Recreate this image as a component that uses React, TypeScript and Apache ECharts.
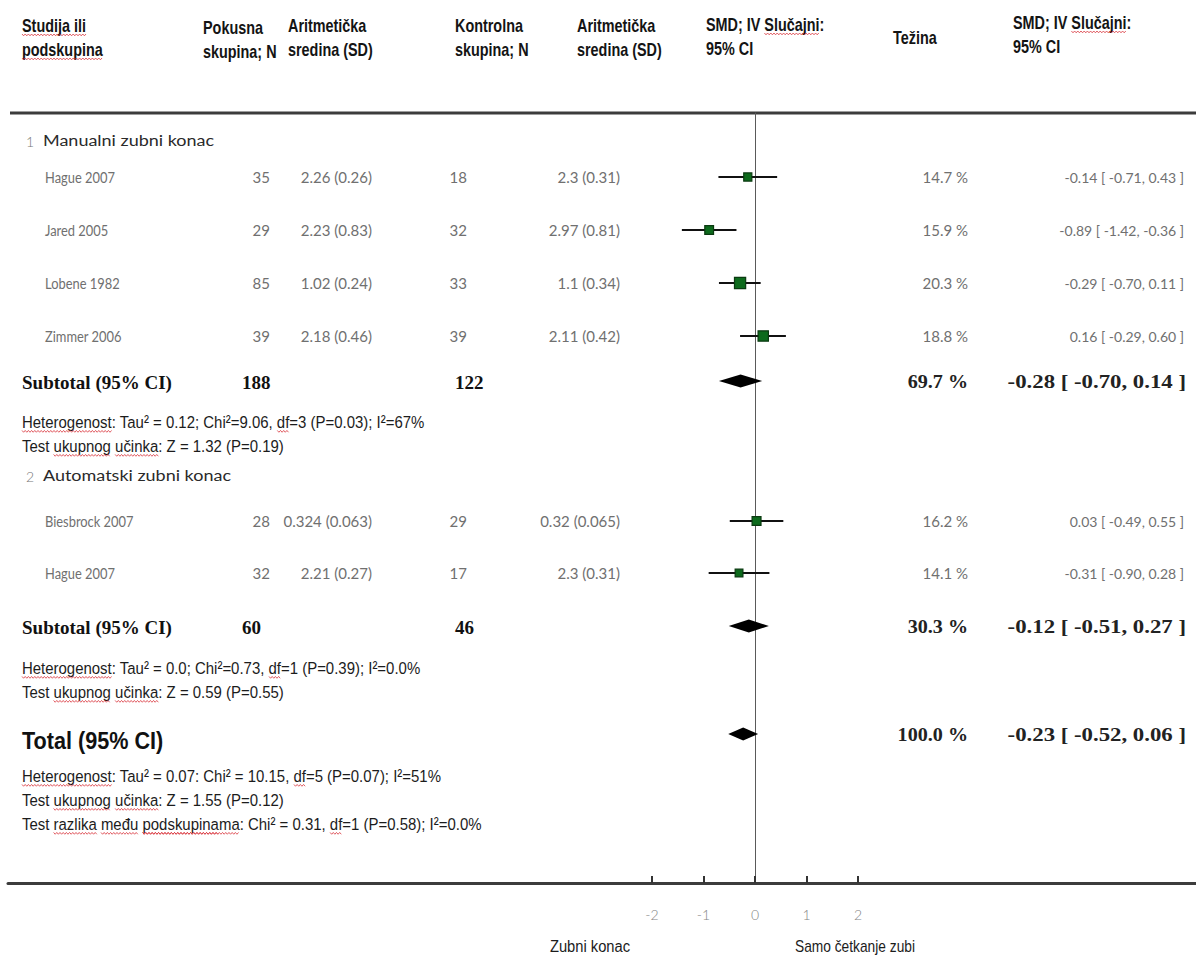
import React, { useEffect, useRef } from "react";
import * as echarts from "echarts";

// ---------- DATA ----------
const studyNames = ["Hague 2007", "Jared 2005", "Lobene 1982", "Zimmer 2006", "Biesbrock 2007", "Hague 2007"];
const expN = [35, 29, 85, 39, 28, 32];
const expMeanSD = ["2.26 (0.26)", "2.23 (0.83)", "1.02 (0.24)", "2.18 (0.46)", "0.324 (0.063)", "2.21 (0.27)"];
const ctrlN = [18, 32, 33, 39, 29, 17];
const ctrlMeanSD = ["2.3 (0.31)", "2.97 (0.81)", "1.1 (0.34)", "2.11 (0.42)", "0.32 (0.065)", "2.3 (0.31)"];
const weights = [14.7, 15.9, 20.3, 18.8, 16.2, 14.1];
const smd = [-0.14, -0.89, -0.29, 0.16, 0.03, -0.31];
const ciLow = [-0.71, -1.42, -0.7, -0.29, -0.49, -0.9];
const ciHigh = [0.43, -0.36, 0.11, 0.6, 0.55, 0.28];

const groupNumbers = ["1", "2"];
const groupNames = ["Manualni zubni konac", "Automatski zubni konac"];

const pooledLabels = ["Subtotal (95% CI)", "Subtotal (95% CI)", "Total (95% CI)"];
const pooledExpN = [188, 60, null];
const pooledCtrlN = [122, 46, null];
const pooledWeight = [69.7, 30.3, 100.0];
const pooledSmd = [-0.28, -0.12, -0.23];
const pooledLow = [-0.7, -0.51, -0.52];
const pooledHigh = [0.14, 0.27, 0.06];

const statLines = [
  "Heterogenost: Tau² = 0.12; Chi²=9.06, df=3 (P=0.03); I²=67%",
  "Test ukupnog učinka: Z = 1.32 (P=0.19)",
  "Heterogenost: Tau² = 0.0; Chi²=0.73, df=1 (P=0.39); I²=0.0%",
  "Test ukupnog učinka: Z = 0.59 (P=0.55)",
  "Heterogenost: Tau² = 0.07: Chi² = 10.15, df=5 (P=0.07); I²=51%",
  "Test ukupnog učinka: Z = 1.55 (P=0.12)",
  "Test razlika među podskupinama: Chi² = 0.31, df=1 (P=0.58); I²=0.0%",
];
// words marked by the spell checker (red wavy underline)
const flaggedWords = ["Studija ili", "podskupina", "Slučajni:", "Heterogenost:", "ukupnog", "učinka:", "df", "razlika", "među", "podskupinama:"];

const headerCols = [
  ["Studija ili", "podskupina"],
  ["Pokusna", "skupina; N"],
  ["Aritmetička", "sredina (SD)"],
  ["Kontrolna", "skupina; N"],
  ["Aritmetička", "sredina (SD)"],
  ["SMD; IV Slučajni:", "95% CI"],
  ["Težina"],
  ["SMD; IV Slučajni:", "95% CI"],
];

const xTicks = [-2, -1, 0, 1, 2];
const leftAxisLabel = "Zubni konac";
const rightAxisLabel = "Samo četkanje zubi";

// ---------- LAYOUT ----------
const W = 1196;
const H = 961;
const GRID_TOP = 113;
const GRID_BOTTOM = 883;
const ZERO_X = 755;
const UNIT = 51.5;
const X_MIN = (8 - ZERO_X) / UNIT;
const X_MAX = (W - ZERO_X) / UNIT;

const studyRowY = [177, 230, 283, 336, 521, 573];
const pooledRowY = [381, 626, 734];
const pooledTextY = [382, 627, 735];
const groupRowY = [141, 476];
const statRowY = [422, 446, 668, 692, 776, 800, 824];
const headerX = [22, 203, 288, 455, 577, 706, 893, 1013];
const headerY = [[25, 49], [27, 51], [25, 49], [25, 49], [25, 49], [24, 48], [37], [22, 46]];

const SANS = "'Liberation Sans', Arial, sans-serif";
const GILL = "Lato, 'Open Sans', sans-serif";
const SERIF = "'Liberation Serif', 'Times New Roman', serif";

const measureCtx = typeof document !== "undefined" ? document.createElement("canvas").getContext("2d") : null;
function measure(t: string, font: string) {
  if (!measureCtx) return t.length * 7;
  measureCtx.font = font;
  return measureCtx.measureText(t).width;
}

function txt(text: string, x: number, y: number, font: string, fill: string, align = "left", sx = 1) {
  return {
    type: "text",
    x,
    y,
    scaleX: sx,
    silent: true,
    style: { text, font, fill, textAlign: align, textVerticalAlign: "middle" },
  };
}

function wavy(x1: number, x2: number, y: number) {
  const pts: number[][] = [];
  let up = true;
  for (let x = x1; x <= x2; x += 1.6) {
    pts.push([x, y + (up ? -0.9 : 0.9)]);
    up = !up;
  }
  return {
    type: "polyline",
    silent: true,
    shape: { points: pts },
    style: { stroke: "#d9363e", lineWidth: 0.8, fill: null },
  };
}

// underline flagged words of a left-aligned text
function flagUnderlines(text: string, x: number, y: number, font: string, size: number, sx: number) {
  const out: any[] = [];
  flaggedWords.forEach((w) => {
    let from = 0;
    while (true) {
      const idx = text.indexOf(w, from);
      if (idx < 0) break;
      const before = text.slice(0, idx);
      const x1 = x + measure(before, font) * sx;
      const x2 = x1 + measure(w.replace(/:$/, ""), font) * sx;
      out.push(wavy(x1, x2, y + size * 0.55));
      from = idx + w.length;
    }
  });
  return out;
}

function fmtCI(e: number, l: number, h: number) {
  return `${e.toFixed(2)} [ ${l.toFixed(2)}, ${h.toFixed(2)} ]`;
}

export default function App() {
  const ref = useRef<HTMLDivElement>(null);

  useEffect(() => {
    if (!ref.current) return;
    const chart = echarts.init(ref.current, null, { renderer: "svg" });

    const graphics: any[] = [];
    // top rule
    graphics.push({
      type: "line",
      silent: true,
      shape: { x1: 10, y1: GRID_TOP, x2: W, y2: GRID_TOP },
      style: { stroke: "#3c3c3c", lineWidth: 3 },
    });
    // header
    const hFont = `bold 18px ${SANS}`;
    const hSx = 0.8;
    headerCols.forEach((lines, c) => {
      lines.forEach((t, k) => {
        graphics.push(txt(t, headerX[c], headerY[c][k], hFont, "#141414", "left", hSx));
        graphics.push(...flagUnderlines(t, headerX[c], headerY[c][k], hFont, 18, hSx));
      });
    });
    // group headers
    groupNames.forEach((g, i) => {
      graphics.push(txt(groupNumbers[i], 26, groupRowY[i], `300 14px ${GILL}`, "#777"));
      graphics.push(txt(g, 43, groupRowY[i], `15px ${GILL}`, "#2a2a2a", "left", 1.2));
    });
    // studies
    const grey = "#707070";
    const nameFont = `15px ${GILL}`;
    const numFont = `15px ${GILL}`;
    studyNames.forEach((n, i) => {
      const y = studyRowY[i];
      graphics.push(txt(n, 45, y, nameFont, grey, "left", 0.86));
      graphics.push(txt(String(expN[i]), 270, y, numFont, grey, "right"));
      graphics.push(txt(expMeanSD[i], 372, y, numFont, grey, "right"));
      graphics.push(txt(String(ctrlN[i]), 467, y, numFont, grey, "right"));
      graphics.push(txt(ctrlMeanSD[i], 620, y, numFont, grey, "right"));
      graphics.push(txt(`${weights[i].toFixed(1)} %`, 968, y, `15px ${GILL}`, grey, "right"));
      graphics.push(txt(fmtCI(smd[i], ciLow[i], ciHigh[i]), 1184, y, `14px ${GILL}`, grey, "right"));
    });
    // pooled
    const pFont = `bold 19px ${SERIF}`;
    pooledLabels.forEach((l, i) => {
      const y = pooledTextY[i];
      if (i < 2) {
        graphics.push(txt(l, 22, y, pFont, "#111"));
      } else {
        graphics.push(txt(l, 22, y + 6, `bold 23px ${SANS}`, "#111", "left", 0.94));
      }
      if (pooledExpN[i] != null) graphics.push(txt(String(pooledExpN[i]), 242, y, pFont, "#111"));
      if (pooledCtrlN[i] != null) graphics.push(txt(String(pooledCtrlN[i]), 455, y, pFont, "#111"));
      graphics.push(txt(`${pooledWeight[i].toFixed(1)} %`, 968, y, pFont, "#222", "right", 1.06));
      graphics.push(txt(fmtCI(pooledSmd[i], pooledLow[i], pooledHigh[i]), 1186, y, pFont, "#222", "right", 1.2));
    });
    // stats
    const sFont = `17px ${SANS}`;
    const sSx = 0.88;
    statLines.forEach((s, i) => {
      graphics.push(txt(s, 22, statRowY[i], sFont, "#1c1c1c", "left", sSx));
      graphics.push(...flagUnderlines(s, 22, statRowY[i], sFont, 17, sSx));
    });
    // axis titles
    graphics.push(txt(leftAxisLabel, 590, 946, `16px ${SANS}`, "#1c1c1c", "center", 0.92));
    graphics.push(txt(rightAxisLabel, 855, 946, `16px ${SANS}`, "#1c1c1c", "center", 0.86));

    const studyData = studyNames.map((_, i) => [smd[i], ciLow[i], ciHigh[i], studyRowY[i], weights[i]]);
    const pooledData = pooledSmd.map((v, i) => [v, pooledLow[i], pooledHigh[i], pooledRowY[i]]);

    chart.setOption({
      animation: false,
      grid: { left: 8, right: 0, top: GRID_TOP, bottom: H - GRID_BOTTOM, containLabel: false },
      xAxis: {
        type: "value",
        min: X_MIN,
        max: X_MAX,
        splitLine: { show: false },
        axisLine: { show: true, onZero: false, lineStyle: { color: "#3c3c3c", width: 3 } },
        axisTick: { show: true, inside: true, length: 7, customValues: xTicks, lineStyle: { color: "#333", width: 2 } },
        axisLabel: {
          show: true,
          customValues: xTicks,
          margin: 24,
          color: "#858585",
          fontSize: 14,
          fontFamily: GILL,
          fontWeight: 300,
          formatter: (v: number) => String(v),
        },
      },
      yAxis: {
        type: "value",
        min: GRID_TOP,
        max: GRID_BOTTOM,
        inverse: true,
        splitLine: { show: false },
        axisTick: { show: false },
        axisLabel: { show: false },
        axisLine: { show: true, onZero: true, lineStyle: { color: "#5a5a5a", width: 1 } },
      },
      graphic: { elements: graphics },
      series: [
        {
          type: "custom",
          name: "studies",
          data: studyData,
          encode: { x: [0, 1, 2], y: 3 },
          renderItem: (params: any, api: any) => {
            const yv = api.value(3);
            const c = api.coord([api.value(0), yv]);
            const lo = api.coord([api.value(1), yv]);
            const hi = api.coord([api.value(2), yv]);
            const s = api.value(4) * 0.55;
            return {
              type: "group",
              children: [
                {
                  type: "line",
                  shape: { x1: lo[0], y1: lo[1], x2: hi[0], y2: hi[1] },
                  style: { stroke: "#111", lineWidth: 2 },
                },
                {
                  type: "rect",
                  shape: { x: c[0] - s / 2, y: c[1] - s / 2, width: s, height: s },
                  style: { fill: "#0d6a1c", stroke: "#0a3a10", lineWidth: 1.2 },
                },
              ],
            };
          },
        },
        {
          type: "custom",
          name: "pooled",
          data: pooledData,
          encode: { x: [0, 1, 2], y: 3 },
          renderItem: (params: any, api: any) => {
            const yv = api.value(3);
            const c = api.coord([api.value(0), yv]);
            const lo = api.coord([api.value(1), yv]);
            const hi = api.coord([api.value(2), yv]);
            const h = 6.5;
            return {
              type: "polygon",
              shape: { points: [[lo[0], lo[1]], [c[0], c[1] - h], [hi[0], hi[1]], [c[0], c[1] + h]] },
              style: { fill: "#000" },
            };
          },
        },
      ],
    });

    return () => chart.dispose();
  }, []);

  return (
    <div
      ref={ref}
      style={{ position: "fixed", left: 0, top: 0, width: W, height: H, background: "#fff" }}
    />
  );
}
